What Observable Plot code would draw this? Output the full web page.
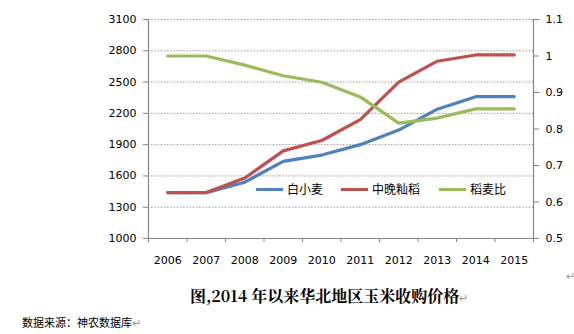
<!DOCTYPE html>
<html><head><meta charset="utf-8">
<script src="https://cdn.jsdelivr.net/npm/d3@7"></script>
<script src="https://cdn.jsdelivr.net/npm/@observablehq/plot@0.6"></script>
<style>
body{margin:0;background:#fff;width:574px;height:334px;overflow:hidden;position:relative;font-family:"Noto Sans CJK SC",sans-serif;}
#chart{position:absolute;left:0;top:0;}
.leg{position:absolute;top:181px;font-size:12px;line-height:16px;color:#000;font-family:"Noto Sans CJK SC",sans-serif;}
.leg span.sw{display:inline-block;width:27px;height:3px;vertical-align:middle;margin-right:4px;position:relative;top:-1px;}
#title{position:absolute;left:190px;top:286px;line-height:20px;font-size:16px;font-weight:bold;font-family:"Noto Serif CJK SC","Noto Sans CJK SC",serif;white-space:nowrap;}
#src{position:absolute;left:22px;top:315px;line-height:15px;font-size:11px;font-family:"Noto Sans CJK SC",sans-serif;white-space:nowrap;}
.pm{color:#999;font-weight:normal;font-size:11px;}
</style></head><body>
<div id="chart"></div>
<div class="leg" style="left:256px"><span class="sw" style="background:#4F81BD"></span>白小麦</div>
<div class="leg" style="left:341px"><span class="sw" style="background:#C0504D"></span>中晚籼稻</div>
<div class="leg" style="left:439px"><span class="sw" style="background:#9BBB59"></span>稻麦比</div>
<div id="title">图,2014 年以来华北地区玉米收购价格<span class="pm">↵</span></div>
<div id="src">数据来源：神农数据库<span class="pm">↵</span></div>
<div style="position:absolute;left:566px;top:267px;font-size:11px;color:#999">↵</div>
<script>
const years = [2006,2007,2008,2009,2010,2011,2012,2013,2014,2015];
const wheat = [1440,1440,1540,1740,1800,1900,2040,2240,2360,2360];
const rice  = [1440,1440,1580,1840,1940,2140,2500,2700,2760,2760];
const ratio = [1.0,1.0,0.975,0.946,0.928,0.888,0.816,0.830,0.855,0.855];
const leftTicks = [1000,1300,1600,1900,2200,2500,2800,3100];
const rightTicks = [0.5,0.6,0.7,0.8,0.9,1.0,1.1];
const series = [
  {name:"白小麦", values:wheat, color:"#4F81BD"},
  {name:"中晚籼稻", values:rice, color:"#C0504D"},
  {name:"稻麦比", values:ratio, color:"#9BBB59", right:true}
];
const toLeft = r => 1000 + (r - 0.5) / 0.6 * 2100;
const data = series.flatMap(s => years.map((y,i) => ({year:y, v: s.right ? toLeft(s.values[i]) : s.values[i], name:s.name, color:s.color})));
const bounds = d3.range(2005.5, 2016, 1);
const axisColor = "#868686";
const chart = Plot.plot({
  width:574, height:270,
  marginTop:19, marginBottom:32, marginLeft:148, marginRight:41,
  style:{fontFamily:"DejaVu Sans, sans-serif", fontSize:"11px", color:"#000", background:"transparent"},
  x:{domain:[2005.5,2015.5]},
  y:{domain:[1000,3100]},
  marks:[
    Plot.ruleY(leftTicks.slice(1), {stroke:"#808080", strokeDasharray:"1.2,2", strokeWidth:1}),
    Plot.axisY({ticks:leftTicks, tickSize:5, tickPadding:7, stroke:axisColor, label:null, tickFormat:d=>String(d)}),
    Plot.axisY({anchor:"right", ticks:rightTicks.map(toLeft), tickSize:5, tickPadding:7, stroke:axisColor, label:null,
      tickFormat:d=>String(+((d-1000)/2100*0.6+0.5).toFixed(1))}),
    Plot.axisX({ticks:bounds, tickSize:4, stroke:axisColor, tickFormat:()=>"", label:null}),
    Plot.axisX({ticks:years, tickSize:0, tickPadding:18, tickFormat:d=>String(d), label:null}),
    Plot.ruleY([1000], {stroke:axisColor, strokeWidth:1.2}),
    Plot.ruleX([2005.5, 2015.5], {stroke:axisColor, strokeWidth:1.2}),
    Plot.lineY(data, {x:"year", y:"v", z:"name", stroke:"color", strokeWidth:3.2})
  ]
});
document.getElementById("chart").append(chart);
</script>
</body></html>
